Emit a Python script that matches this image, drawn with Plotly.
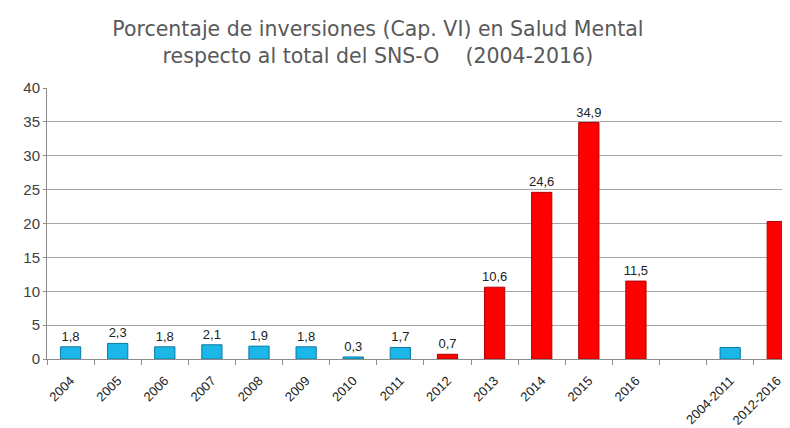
import plotly.graph_objects as go

categories = ["2004", "2005", "2006", "2007", "2008", "2009", "2010", "2011",
              "2012", "2013", "2014", "2015", "2016", " ", "2004-2011", "2012-2016"]
values = [1.8, 2.3, 1.8, 2.1, 1.9, 1.8, 0.3, 1.7,
          0.7, 10.6, 24.6, 34.9, 11.5, None, 1.7, 20.3]
labels = ["1,8", "2,3", "1,8", "2,1", "1,9", "1,8", "0,3", "1,7",
          "0,7", "10,6", "24,6", "34,9", "11,5", "", "", ""]
groups = ["a"] * 8 + ["b"] * 5 + [None, "a", "b"]

fill = {"a": "#1ab7e8", "b": "#ff0000", None: "rgba(0,0,0,0)"}
edge = {"a": "#0b7aa3", "b": "#b00000", None: "rgba(0,0,0,0)"}

fig = go.Figure()
fig.add_trace(go.Bar(
    x=categories, y=values,
    text=labels, textposition="outside",
    constraintext="none",
    textfont=dict(family="Liberation Sans, Arial", size=13, color="#222222"),
    marker=dict(color=[fill[g] for g in groups],
                line=dict(color=[edge[g] for g in groups], width=1)),
    cliponaxis=False,
    hoverinfo="skip",
))

fig.update_layout(
    width=782, height=420,
    margin=dict(l=39, r=0, t=80, b=67),
    paper_bgcolor="white", plot_bgcolor="white",
    showlegend=False,
    bargap=0.57,
    title=dict(
        text="Porcentaje de inversiones (Cap. VI) en Salud Mental<br>respecto al total del SNS-O    (2004-2016)",
        x=0.473, xanchor="center", y=0.933, yanchor="top",
        font=dict(family="DejaVu Sans", size=20.5, color="#595959"),
    ),
)
fig.update_yaxes(
    range=[0, 40], dtick=5,
    showgrid=True, gridcolor="#a6a6a6", gridwidth=1,
    showline=True, linecolor="#8c8c8c", linewidth=1,
    ticks="outside", ticklen=3, tickcolor="#8c8c8c",
    tickfont=dict(family="Liberation Sans, Arial", size=15, color="#404040"),
    zeroline=False,
)
fig.update_xaxes(
    type="category",
    range=[-0.5, 15.27],
    tickangle=-45,
    tickson="boundaries",
    ticks="outside", ticklen=5, tickcolor="#8c8c8c",
    ticklabelstandoff=8,
    showline=True, linecolor="#8c8c8c", linewidth=1,
    tickfont=dict(family="Liberation Sans, Arial", size=13, color="#222222"),
    showgrid=False,
)

fig.write_html("out.html")
